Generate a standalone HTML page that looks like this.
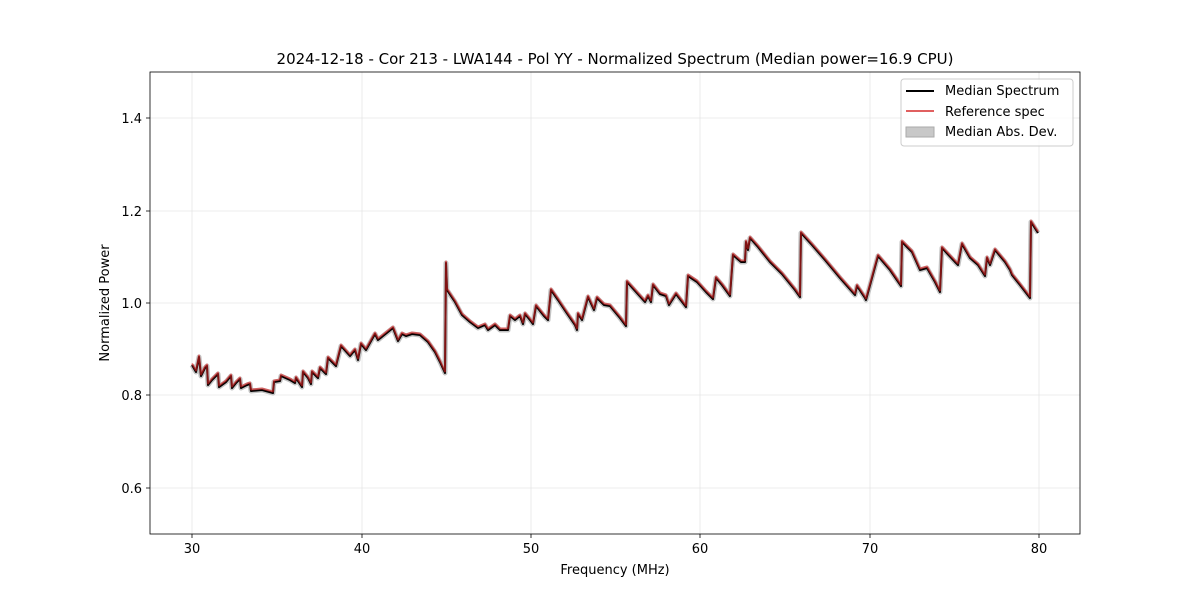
<!DOCTYPE html>
<html><head><style>
body{margin:0;background:#fff;}
svg text{font-family:"DejaVu Sans","Liberation Sans",sans-serif;fill:#000;}
</style></head><body>
<svg width="1200" height="600" xmlns="http://www.w3.org/2000/svg">
<rect width="1200" height="600" fill="#fff"/>
<g stroke="#e6e6e6" stroke-width="0.8">
<line x1="192" y1="72" x2="192" y2="534"/><line x1="362" y1="72" x2="362" y2="534"/>
<line x1="531" y1="72" x2="531" y2="534"/><line x1="700" y1="72" x2="700" y2="534"/>
<line x1="870" y1="72" x2="870" y2="534"/><line x1="1039" y1="72" x2="1039" y2="534"/>
<line x1="150" y1="118" x2="1080" y2="118"/><line x1="150" y1="211" x2="1080" y2="211"/>
<line x1="150" y1="303" x2="1080" y2="303"/><line x1="150" y1="395" x2="1080" y2="395"/>
<line x1="150" y1="488" x2="1080" y2="488"/>
</g>
<defs>
<polyline id="c" fill="none" stroke-linejoin="round" points="192,365 196,372 199,357 201,376 205,368 207,366 208,385 212,380 218,374 219,387 226,382 231,376 232,388 236,383 240,379 241,388 247,385 250,384 251,391 262,390 273,393 274,382 280,381 281,376 290,380 295,383 296,378 302,387 303,372 308,378 311,384 312,372 318,378 320,368 326,374 328,358 336,366 341,346 350,356 355,350 358,360 361,344 366,350 375,334 378,340 388,332 393,328 398,341 402,334 406,336 412,334 420,335 428,342 435,352 440,362 445,373 446,263 447,290 455,302 462,315 470,322 478,328 485,325 488,330 495,325 500,330 508,330 510,316 515,320 520,316 523,324 525,314 530,320 533,324 536,306 544,316 548,320 551,290 558,300 566,312 575,325 577,330 578,314 582,320 588,297 594,310 597,298 604,305 610,306 620,318 626,326 627,282 636,292 645,302 648,296 651,302 653,285 660,294 666,296 669,305 676,294 686,307 688,276 697,282 706,292 710,296 713,299 716,278 722,285 730,296 733,255 741,262 745,262 746,242 748,250 750,238 758,247 770,262 782,274 795,290 800,297 801,233 812,245 825,260 840,278 855,295 857,286 865,298 866,300 878,256 890,270 901,286 902,242 912,252 920,270 927,268 935,282 940,292 942,248 955,262 958,265 962,244 970,258 978,265 985,276 987,258 990,265 995,250 1005,262 1010,270 1012,275 1020,285 1030,298 1031,222 1038,233"/>
</defs>
<use href="#c" stroke="#bdbdbd" stroke-width="5" opacity="0.9"/>
<use href="#c" stroke="#000" stroke-width="2"/>
<use href="#c" stroke="#d62020" stroke-width="2" opacity="0.6" transform="translate(0,-1.5)"/>
<rect x="150" y="72" width="930" height="462" fill="none" stroke="#000" stroke-width="0.8"/>
<g stroke="#000" stroke-width="0.8">
<line x1="192" y1="534" x2="192" y2="538"/><line x1="362" y1="534" x2="362" y2="538"/>
<line x1="531" y1="534" x2="531" y2="538"/><line x1="700" y1="534" x2="700" y2="538"/>
<line x1="870" y1="534" x2="870" y2="538"/><line x1="1039" y1="534" x2="1039" y2="538"/>
<line x1="146" y1="118" x2="150" y2="118"/><line x1="146" y1="211" x2="150" y2="211"/>
<line x1="146" y1="303" x2="150" y2="303"/><line x1="146" y1="395" x2="150" y2="395"/>
<line x1="146" y1="488" x2="150" y2="488"/>
</g>
<g font-size="13" text-anchor="middle">
<text x="192" y="553">30</text><text x="362" y="553">40</text><text x="531" y="553">50</text>
<text x="700" y="553">60</text><text x="870" y="553">70</text><text x="1039" y="553">80</text>
<text x="615" y="574">Frequency (MHz)</text>
<text x="615" y="64" font-size="15">2024-12-18 - Cor 213 - LWA144 - Pol YY - Normalized Spectrum (Median power=16.9 CPU)</text>
<text transform="translate(109,303) rotate(-90)">Normalized Power</text>
</g>
<g font-size="13" text-anchor="end">
<text x="142" y="123">1.4</text><text x="142" y="216">1.2</text><text x="142" y="308">1.0</text>
<text x="142" y="400">0.8</text><text x="142" y="493">0.6</text>
</g>
<rect x="901" y="79" width="172" height="67" rx="3" fill="#fff" fill-opacity="0.8" stroke="#ccc"/>
<line x1="906" y1="91" x2="934" y2="91" stroke="#000" stroke-width="2"/>
<line x1="906" y1="111" x2="934" y2="111" stroke="#e06060" stroke-width="2"/>
<rect x="906" y="127" width="28" height="10" fill="#c8c8c8" stroke="#aaa"/>
<g font-size="13"><text x="945" y="95">Median Spectrum</text><text x="945" y="116">Reference spec</text><text x="945" y="136">Median Abs. Dev.</text></g>
</svg>
</body></html>
